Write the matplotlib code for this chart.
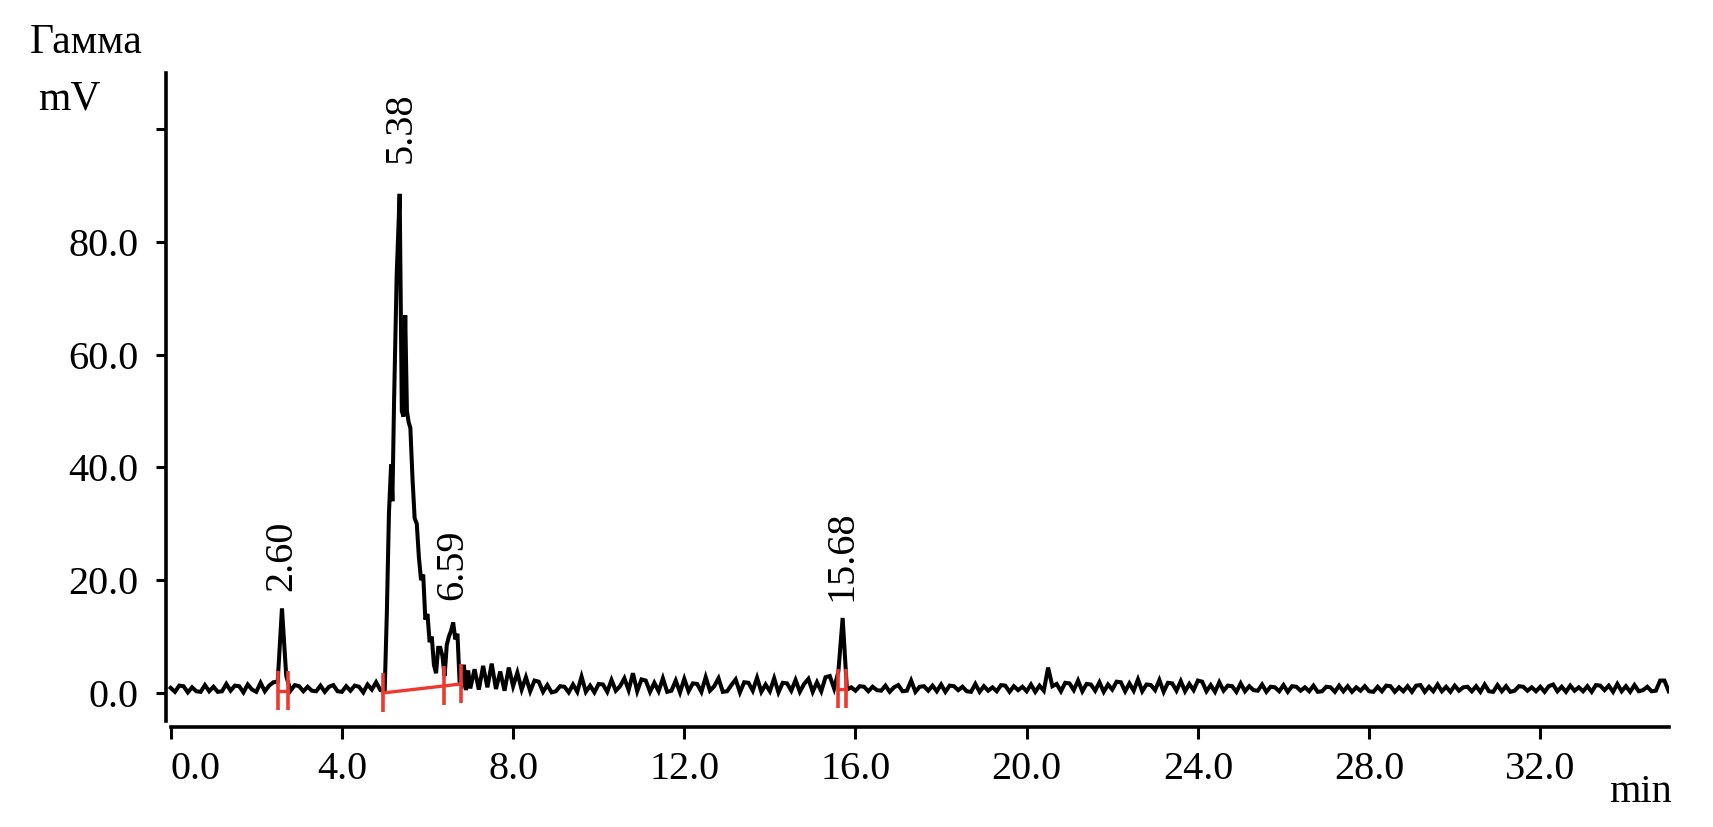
import numpy as np
import matplotlib
matplotlib.use("Agg")
import matplotlib.pyplot as plt

# ---------------- data ----------------
# baseline noise 0.0 - 4.9 min (step 0.1), includes peak 2.60
seg_a_y = [
    0.9, 0.2, 1.3, 1.2, 0.1, 1.0, 0.3, 0.2, 1.4, 0.3,
    1.1, 0.2, 0.3, 1.6, 0.4, 1.3, 1.2, 0.1, 1.5, 0.6,
    0.2, 1.8, 0.3, 1.3, 1.9, 2.0, 15.0, 3.0, 0.4, 1.4,
    1.2, 0.3, 1.1, 0.4, 0.3, 1.3, 0.2, 1.1, 1.4, 0.3,
    0.2, 1.2, 0.4, 1.3, 1.1, 0.1, 1.5, 0.6, 1.9, 0.5,
]
# main peak region (explicit times)
main_t = [5.00, 5.05, 5.10, 5.15, 5.18, 5.22, 5.28, 5.35, 5.40, 5.44,
          5.48, 5.52, 5.56, 5.60, 5.65, 5.70, 5.75, 5.80, 5.85, 5.90,
          5.95, 6.00, 6.05, 6.10, 6.15, 6.20, 6.25, 6.30, 6.35, 6.40,
          6.45, 6.50, 6.55, 6.60, 6.65, 6.70, 6.75, 6.80, 6.85, 6.90, 6.95]
main_y = [0.4, 14.0, 32.0, 40.5, 34.0, 52.0, 74.0, 88.5, 50.0, 49.0,
          67.0, 50.0, 48.0, 47.0, 38.0, 31.0, 30.0, 24.0, 20.0, 21.0,
          13.0, 14.0, 9.0, 10.0, 5.0, 3.5, 8.0, 8.0, 6.5, 3.0,
          8.5, 10.0, 11.0, 12.5, 9.5, 10.5, 2.0, 1.5, 5.0, 0.5, 4.0]
# 7.0 - 35.0 min (step 0.1), includes peak 15.68
seg_b_y = [
    0.8, 4.2, 0.6, 4.8, 1.0, 5.2, 0.7, 3.8, 0.4, 4.5,
    1.2, 3.6, 0.6, 2.8, 0.3, 2.2, 2.0, 0.2, 1.4, 0.1,
    0.3, 1.2, 1.1, 0.1, 1.5, 0.2, 2.9, 0.2, 1.3, 0.1,
    1.6, 1.5, 0.2, 2.3, 0.4, 1.2, 2.6, 0.5, 3.5, 0.3,
    2.4, 2.2, 0.2, 1.8, 0.3, 2.6, 0.2, 0.4, 2.2, 0.1,
    2.5, 0.3, 1.7, 1.6, 0.2, 2.8, 0.4, 1.2, 2.6, 0.2,
    0.3, 1.4, 2.4, 0.1, 1.9, 1.8, 0.4, 2.7, 0.2, 1.5,
    0.3, 2.6, 0.1, 1.8, 1.7, 0.4, 2.3, 0.2, 1.6, 2.5,
    0.2, 1.9, 0.3, 2.8, 3.0, 0.8, 3.8, 13.3, 0.6, 1.0,
    0.4, 1.2, 1.1, 0.3, 1.1, 0.5, 0.4, 1.3, 0.2, 1.0,
    1.4, 0.3, 0.4, 2.2, 0.2, 1.1, 1.2, 0.4, 1.3, 0.3,
    1.5, 0.2, 1.3, 1.2, 0.5, 1.1, 0.3, 0.2, 1.6, 0.2,
    1.2, 0.4, 1.0, 0.3, 1.4, 1.3, 0.2, 1.2, 0.5, 1.1,
    0.3, 1.5, 0.2, 1.3, 0.4, 4.5, 1.2, 1.6, 0.3, 1.8,
    1.7, 0.5, 2.2, 0.3, 1.6, 1.5, 0.4, 1.9, 0.2, 1.5,
    0.6, 2.0, 1.9, 0.3, 1.7, 0.4, 2.4, 0.3, 1.5, 1.4,
    0.5, 2.3, 0.2, 1.8, 1.7, 0.4, 2.1, 0.3, 1.6, 0.5,
    2.2, 2.0, 0.3, 1.4, 0.2, 1.9, 0.4, 1.3, 1.2, 0.2,
    1.7, 0.3, 1.2, 0.5, 0.4, 1.5, 0.2, 1.1, 1.0, 0.3,
    1.4, 0.2, 1.2, 1.1, 0.4, 1.0, 0.3, 1.3, 0.2, 0.3,
    1.1, 1.0, 0.2, 1.3, 0.3, 1.2, 0.2, 1.0, 0.4, 1.2,
    0.3, 0.2, 1.1, 0.3, 1.3, 1.2, 0.2, 1.0, 0.3, 1.2,
    0.2, 1.3, 1.4, 0.2, 1.1, 0.3, 1.5, 0.3, 1.1, 0.2,
    1.3, 0.4, 1.0, 1.1, 0.3, 1.2, 0.2, 1.5, 0.3, 0.2,
    1.4, 0.3, 1.2, 0.2, 0.4, 1.2, 1.1, 0.4, 1.0, 0.3,
    1.1, 0.2, 1.2, 1.5, 0.3, 1.1, 0.2, 1.3, 0.4, 1.0,
    0.3, 1.2, 0.2, 1.4, 1.3, 0.5, 1.3, 0.2, 1.6, 0.3,
    1.2, 0.2, 1.4, 0.3, 0.5, 1.1, 0.3, 0.4, 2.2, 2.2,
    0.3,
]

peak_rt = [2.60, 5.38, 6.59, 15.68]
peak_labels = ["2.60", "5.38", "6.59", "15.68"]

# integration marks (red)
mark_x = [2.50, 2.73, 4.96, 6.39, 6.79, 15.58, 15.77]
mark_base = [0.3, 0.3, 0.0, 1.2, 1.6, 0.7, 0.7]
base_seg_x = [[2.50, 2.73], [4.96, 6.79], [15.58, 15.77]]
base_seg_y = [[0.3, 0.3], [0.0, 1.6], [0.7, 0.7]]

x_ticks = [0, 4, 8, 12, 16, 20, 24, 28, 32]
x_ticklabels = ["0.0", "4.0", "8.0", "12.0", "16.0", "20.0", "24.0", "28.0", "32.0"]
y_ticks = [0, 20, 40, 60, 80, 100]
y_ticklabels = ["0.0", "20.0", "40.0", "60.0", "80.0", ""]

# ---------------- assemble trace ----------------
t_a = 0.0 + 0.1 * np.arange(len(seg_a_y))
t_b = 7.0 + 0.1 * np.arange(len(seg_b_y))
t = np.concatenate([t_a, np.array(main_t), t_b])
y = np.concatenate([np.array(seg_a_y), np.array(main_y), np.array(seg_b_y)])

# ---------------- plot ----------------
plt.rcParams['font.family'] = ['Liberation Serif', 'DejaVu Serif']
W, H = 1713, 827
fig = plt.figure(figsize=(W / 100, H / 100), dpi=100)
ax = fig.add_axes([166.4 / W, (H - 726.8) / H, 1502.3 / W, (726.8 - 72.6) / H])

ax.plot(t, y, color='black', lw=2.9, solid_joinstyle='miter', zorder=3)

red = '#ee3a2e'
for mx, mb in zip(mark_x, mark_base):
    ax.plot([mx, mx], [mb - 3.4, mb + 3.6], color=red, lw=2.6, zorder=4,
            solid_capstyle='butt')
for sx, sy in zip(base_seg_x, base_seg_y):
    ax.plot(sx, sy, color=red, lw=2.4, zorder=4)

label_gap = [3.0, 5.5, 4.0, 3.0]
for rt, lab, gap in zip(peak_rt, peak_labels, label_gap):
    near = np.abs(t - rt) < 0.08
    top = y[near].max()
    ax.text(rt, top + gap, lab, rotation=90, ha='center', va='bottom',
            fontsize=29)

ax.set_xlim(-0.1, 35.0)
ax.set_ylim(-6.0, 110.0)

for s in ['top', 'right']:
    ax.spines[s].set_visible(False)
ax.spines['left'].set_bounds(-5.0, 110.0)
ax.spines['bottom'].set_bounds(0.0, 35.0)
for s in ['left', 'bottom']:
    ax.spines[s].set_linewidth(2.6)

ax.set_xticks(x_ticks)
ax.set_xticklabels(x_ticklabels)
ax.set_yticks(y_ticks)
ax.set_yticklabels(y_ticklabels)
ax.tick_params(axis='y', length=7.2, width=2.2, pad=13, labelsize=29)
ax.tick_params(axis='x', length=8.6, width=2.2, pad=9, labelsize=29)
ax.get_xticklabels()[0].set_horizontalalignment('left')

fig.text(30 / W, (H - 53) / H, "Гамма", fontsize=30, ha='left', va='baseline')
fig.text(38 / W, (H - 110) / H, "mV", fontsize=30, ha='left', va='baseline')
fig.text(1672 / W, (H - 802) / H, "min", fontsize=29, ha='right', va='baseline')

fig.savefig("out.png", dpi=100)
